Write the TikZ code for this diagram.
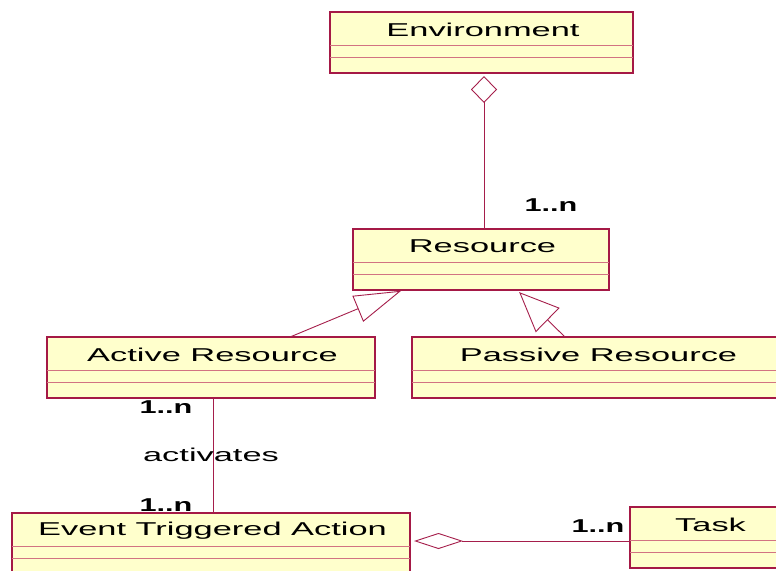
\documentclass[tikz,border=0pt]{standalone}
\usepackage{fontspec}
\setmainfont{Liberation Sans}[FakeStretch=1.85]
\newfontfamily\multfont{Liberation Sans Bold}[FakeStretch=1.65]
\usetikzlibrary{arrows.meta}
\definecolor{umlborder}{RGB}{165,25,70}
\definecolor{umldiv}{RGB}{210,115,130}
\definecolor{umlfill}{RGB}{255,255,204}
\definecolor{umlline}{RGB}{165,30,75}
\tikzset{
  cls/.style={draw=umlborder, line width=1.2pt, fill=umlfill, anchor=north west,
    inner sep=0pt, outer sep=0pt, minimum height=61pt},
  ttl/.style={inner sep=0pt, font=\fontsize{18.6}{22}\selectfont, text=black},
  div/.style={draw=umldiv, line width=0.8pt},
  conn/.style={draw=umlline, line width=0.9pt},
  mult/.style={inner sep=0pt, font=\fontsize{18.6}{22}\multfont, text=black},
  lbl/.style={inner sep=0pt, font=\fontsize{18.6}{22}\selectfont, text=black},
}
\begin{document}
\begin{tikzpicture}[x=1pt,y=-1pt]
\useasboundingbox (0,0) rectangle (776,570);
% classes
\node[cls, minimum width=303pt] (env) at (330,12) {};
\node[cls, minimum width=256pt] (res) at (353,229) {};
\node[cls, minimum width=328pt] (act) at (47,337) {};
\node[cls, minimum width=370pt] (pas) at (412,337) {};
\node[cls, minimum width=398pt] (eta) at (12,513) {};
\node[cls, minimum width=158pt] (task) at (630,507) {};
\foreach \c/\t in {env/Environment, res/Resource, act/Active Resource, pas/Passive Resource, eta/Event Triggered Action, task/Task}{
  \node[ttl] (\c-t) at ([yshift=-17.5pt,xshift=1.5pt]\c.north) {\t};
  \draw[div] ([yshift=-33pt]\c.north west) -- ([yshift=-33pt]\c.north east);
  \draw[div] ([yshift=-45pt]\c.north west) -- ([yshift=-45pt]\c.north east);
}
% Environment <>-- Resource
\draw[conn, {Diamond[open,length=27pt,width=26pt]}-, shorten <=3pt]
  ([xshift=2.5pt]env.south) -- ([xshift=3pt]res.north);
\node[mult] (m1) at (551,205) {1..n};
% generalizations
\draw[conn, -{Triangle[open,length=47pt,width=28pt]}, shorten >=2pt]
  ([xshift=79pt]act.north) -- ([xshift=-78pt]res.south);
\draw[conn, -{Triangle[open,length=40pt,width=34pt]}, shorten >=3pt]
  ([xshift=-32pt]pas.north) -- ([xshift=36pt]res.south);
% activates
\draw[conn] ([xshift=2pt]act.south) -- ([xshift=2pt]eta.north);
\node[mult] (m2) at (166,407) {1..n};
\node[lbl] (act-l) at (211,455) {activates};
\node[mult] (m3) at (166,505) {1..n};
% ETA <>-- Task
\draw[conn, {Diamond[open,length=49pt,width=16pt]}-, shorten <=4pt]
  ([yshift=2.5pt]eta.east) -- ([yshift=2.5pt]eta.east -| task.west);
\node[mult] (m4) at (598,526) {1..n};
\end{tikzpicture}
\end{document}
